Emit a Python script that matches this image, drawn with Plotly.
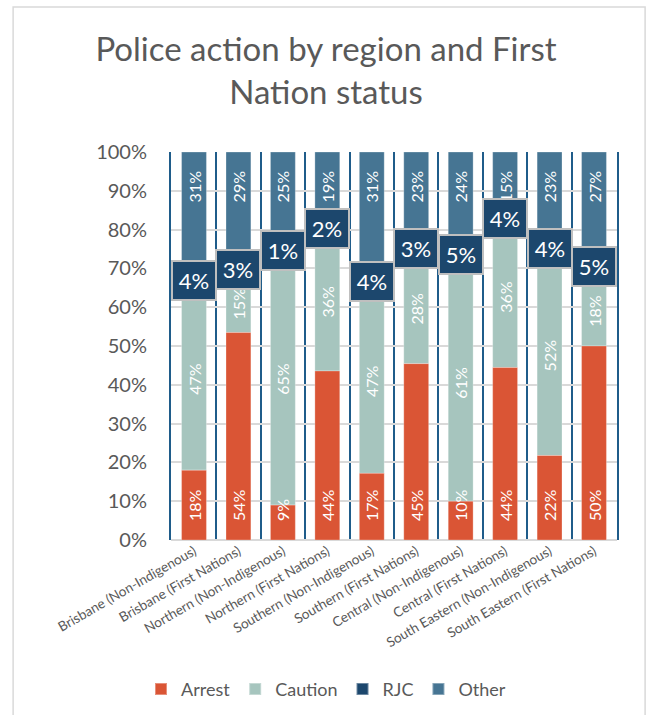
import plotly.graph_objects as go

# Regions split by First Nations status
categories = [
    "Brisbane (Non-Indigenous)",
    "Brisbane (First Nations)",
    "Northern (Non-Indigenous)",
    "Northern (First Nations)",
    "Southern (Non-Indigenous)",
    "Southern (First Nations)",
    "Central (Non-Indigenous)",
    "Central (First Nations)",
    "South Eastern (Non-Indigenous)",
    "South Eastern (First Nations)",
]

# Share of police actions (%) per outcome
arrest = [18, 54, 9, 44, 17, 45, 10, 44, 22, 50]
caution = [47, 15, 65, 36, 47, 28, 61, 36, 52, 18]
rjc = [4, 3, 1, 2, 4, 3, 5, 4, 4, 5]
other = [31, 29, 25, 19, 31, 23, 24, 15, 23, 27]

C_ARREST = "#DA5535"
C_CAUTION = "#A6C5BE"
C_RJC = "#1C476D"
C_OTHER = "#467593"
C_SEP = "#1F5C8A"
C_TEXT = "#595959"
FONT = "Lato"

PAD = "\u2002\u2002"

# 100%-stacked layout: normalise each column, then stack segments on explicit bases
totals = [a + c + r + o for a, c, r, o in zip(arrest, caution, rjc, other)]


def share(values):
    return [v / t * 100 for v, t in zip(values, totals)]


def cumulative(*series):
    return [sum(vals) for vals in zip(*series)] if series else [0] * len(categories)


segments = [
    # name, values, colour, label anchor, label format, base series, legend rank
    ("Other", other, C_OTHER, "end", lambda v: f"{v}%{PAD}", (arrest, caution, rjc), 4),
    ("RJC", rjc, C_RJC, "middle", None, (arrest, caution), 3),
    ("Caution", caution, C_CAUTION, "middle", lambda v: f"{v}%", (arrest,), 2),
    ("Arrest", arrest, C_ARREST, "start", lambda v: f"{PAD}{v}%", (), 1),
]

fig = go.Figure()

# Drawn top segment first so the lower labels sit above neighbouring bars
for name, values, color, anchor, fmt, below, rank in segments:
    fig.add_trace(go.Bar(
        name=name,
        x=categories,
        y=share(values),
        base=share(cumulative(*below)),
        marker=dict(color=color, line=dict(color="rgba(255,255,255,0.35)", width=0.8)),
        text=[fmt(v) for v in values] if fmt else None,
        textposition="inside" if fmt else "none",
        insidetextanchor=anchor,
        textangle=-90,
        constraintext="none",
        insidetextfont=dict(color="white", size=16, family=FONT),
        legendrank=rank,
        hoverinfo="skip",
    ))

# RJC labels in boxed callouts at the middle of each RJC segment
for cat, a, c, r, t in zip(categories, arrest, caution, rjc, totals):
    centre = (a + c + r / 2) / t * 100
    fig.add_annotation(
        x=cat, y=centre, text=f"{r}%", showarrow=False,
        font=dict(color="white", size=22, family=FONT),
        bgcolor=C_RJC, bordercolor="#BFBFBF", borderwidth=2, borderpad=2,
        width=38, height=33,
    )

# Light frame round the whole chart
fig.add_shape(
    type="rect", xref="paper", yref="paper",
    x0=-0.354, x1=1.063, y0=-0.47, y1=1.374,
    line=dict(color="#D9D9D9", width=1.5), fillcolor="rgba(0,0,0,0)", layer="below",
)

fig.update_layout(
    barmode="overlay",
    bargap=0.44,
    width=652,
    height=715,
    margin=dict(l=171, r=35, t=152, b=175),
    paper_bgcolor="white",
    plot_bgcolor="white",
    font=dict(family=FONT, color=C_TEXT),
    title=dict(
        text="Police action by region and First<br>Nation status",
        x=0.5, xref="container", xanchor="center",
        y=0.915, yref="container", yanchor="top",
        font=dict(size=33, color=C_TEXT, family=FONT),
    ),
    legend=dict(
        orientation="h", xref="container", yref="container",
        x=0.5, xanchor="center", y=0.036, yanchor="middle",
        font=dict(size=18, color=C_TEXT, family=FONT),
        traceorder="normal",
        itemsizing="constant",
    ),
    showlegend=True,
)

fig.update_xaxes(
    type="category",
    tickson="boundaries",
    showgrid=True, gridcolor=C_SEP, gridwidth=2,
    ticks="", tickangle=-30,
    tickfont=dict(size=13.5, color=C_TEXT, family=FONT),
    showline=False,
)
fig.update_yaxes(
    range=[0, 100], dtick=10, ticksuffix="%",
    showgrid=True, gridcolor="#D9D9D9", gridwidth=1.5,
    zeroline=True, zerolinecolor="#D9D9D9", zerolinewidth=1.5,
    showline=True, mirror=True, linecolor=C_SEP, linewidth=2,
    ticks="", ticklen=0, ticklabelstandoff=18,
    tickfont=dict(size=20, color=C_TEXT, family=FONT),
)

fig.write_html("out.html")
